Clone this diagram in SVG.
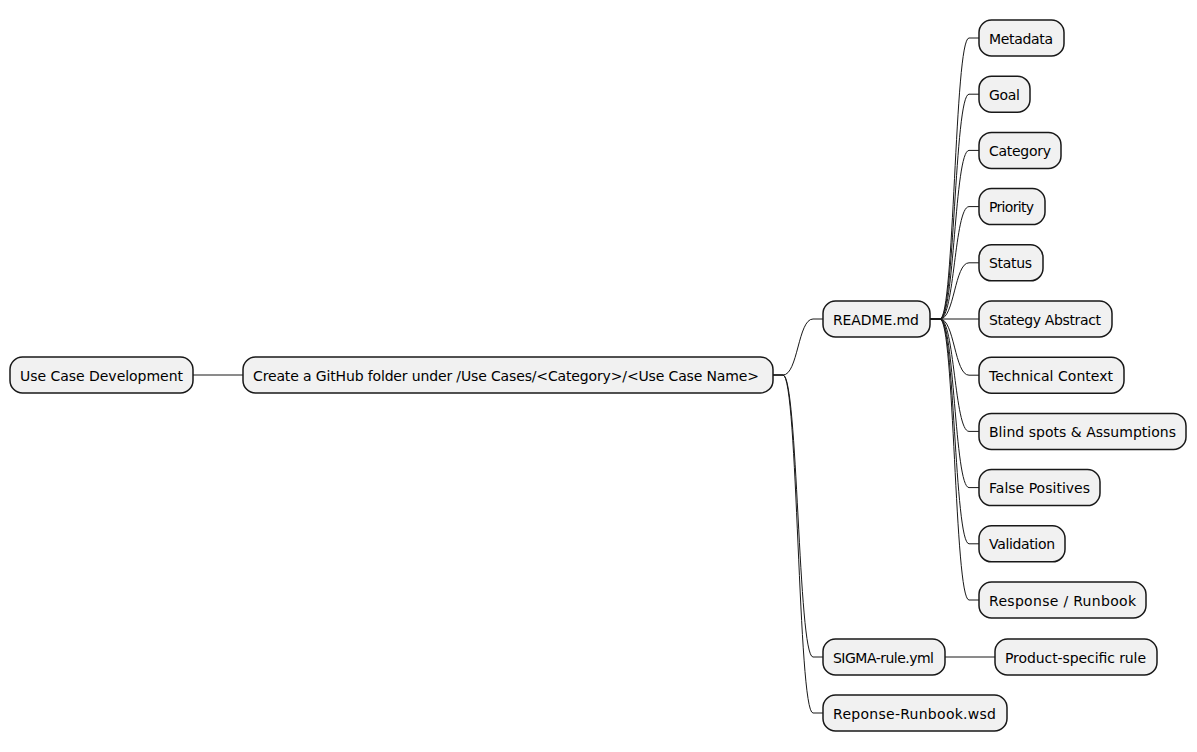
<svg xmlns="http://www.w3.org/2000/svg" width="1197" height="752" viewBox="0 0 1197 752">
<style>
.n rect{fill:#F1F1F1;stroke:#181818;stroke-width:1.5}
.n text{font-family:"DejaVu Sans",sans-serif;font-size:14px;fill:#000}
#edges path{fill:none;stroke:#181818;stroke-width:1}
</style>
<rect width="1197" height="752" fill="#FFFFFF"/>
<g id="edges">
<path d="M193,375 L243,375"/>
<path d="M773,375 L783,375 C798,375 798,319 813,319 L823,319"/>
<path d="M773,375 L783,375 C798,375 798,657 813,657 L823,657"/>
<path d="M773,375 L783,375 C798,375 798,713 813,713 L823,713"/>
<path d="M945,657 L995,657"/>
<path d="M930,319 L940,319 C954.5,319 954.5,38 969,38 L979,38"/>
<path d="M930,319 L940,319 C954.5,319 954.5,94.2 969,94.2 L979,94.2"/>
<path d="M930,319 L940,319 C954.5,319 954.5,150.4 969,150.4 L979,150.4"/>
<path d="M930,319 L940,319 C954.5,319 954.5,206.6 969,206.6 L979,206.6"/>
<path d="M930,319 L940,319 C954.5,319 954.5,262.8 969,262.8 L979,262.8"/>
<path d="M930,319 L979,319"/>
<path d="M930,319 L940,319 C954.5,319 954.5,375.2 969,375.2 L979,375.2"/>
<path d="M930,319 L940,319 C954.5,319 954.5,431.4 969,431.4 L979,431.4"/>
<path d="M930,319 L940,319 C954.5,319 954.5,487.6 969,487.6 L979,487.6"/>
<path d="M930,319 L940,319 C954.5,319 954.5,543.8 969,543.8 L979,543.8"/>
<path d="M930,319 L940,319 C954.5,319 954.5,600 969,600 L979,600"/>
</g>
<g id="root" class="n"><rect x="10" y="357" width="183" height="36" rx="12.5"/><text x="20" y="380.5" textLength="163">Use Case Development</text></g>
<g id="github" class="n"><rect x="243" y="357" width="530" height="36" rx="12.5"/><text x="253" y="380.5" textLength="506">Create a GitHub folder under /Use Cases/&lt;Category&gt;/&lt;Use Case Name&gt;</text></g>
<g id="readme" class="n"><rect x="823" y="301" width="107" height="36" rx="12.5"/><text x="833" y="324.5" textLength="86">README.md</text></g>
<g id="sigma" class="n"><rect x="823" y="639" width="122" height="36" rx="12.5"/><text x="833" y="662.5" textLength="101">SIGMA-rule.yml</text></g>
<g id="reponse" class="n"><rect x="823" y="695" width="184" height="36" rx="12.5"/><text x="833" y="718.5" textLength="163">Reponse-Runbook.wsd</text></g>
<g id="product" class="n"><rect x="995" y="639" width="162" height="36" rx="12.5"/><text x="1005" y="662.5" textLength="141">Product-specific rule</text></g>
<g id="metadata" class="n"><rect x="979" y="20" width="85" height="36" rx="12.5"/><text x="989" y="43.5" textLength="64">Metadata</text></g>
<g id="goal" class="n"><rect x="979" y="76.2" width="51" height="36" rx="12.5"/><text x="989" y="99.7" textLength="31">Goal</text></g>
<g id="category" class="n"><rect x="979" y="132.4" width="82" height="36" rx="12.5"/><text x="989" y="155.9" textLength="62">Category</text></g>
<g id="priority" class="n"><rect x="979" y="188.6" width="66" height="36" rx="12.5"/><text x="989" y="212.1" textLength="45">Priority</text></g>
<g id="status" class="n"><rect x="979" y="244.8" width="64" height="36" rx="12.5"/><text x="989" y="268.3" textLength="43">Status</text></g>
<g id="strategy" class="n"><rect x="979" y="301" width="133" height="36" rx="12.5"/><text x="989" y="324.5" textLength="112">Stategy Abstract</text></g>
<g id="technical" class="n"><rect x="979" y="357.2" width="145" height="36" rx="12.5"/><text x="989" y="380.7" textLength="124">Technical Context</text></g>
<g id="blindspots" class="n"><rect x="979" y="413.4" width="207" height="36" rx="12.5"/><text x="989" y="436.9" textLength="187">Blind spots &amp; Assumptions</text></g>
<g id="falsepositives" class="n"><rect x="979" y="469.6" width="121" height="36" rx="12.5"/><text x="989" y="493.1" textLength="101">False Positives</text></g>
<g id="validation" class="n"><rect x="979" y="525.8" width="86" height="36" rx="12.5"/><text x="989" y="549.3" textLength="66">Validation</text></g>
<g id="response" class="n"><rect x="979" y="582" width="167" height="36" rx="12.5"/><text x="989" y="605.5" textLength="147">Response / Runbook</text></g>
</svg>
